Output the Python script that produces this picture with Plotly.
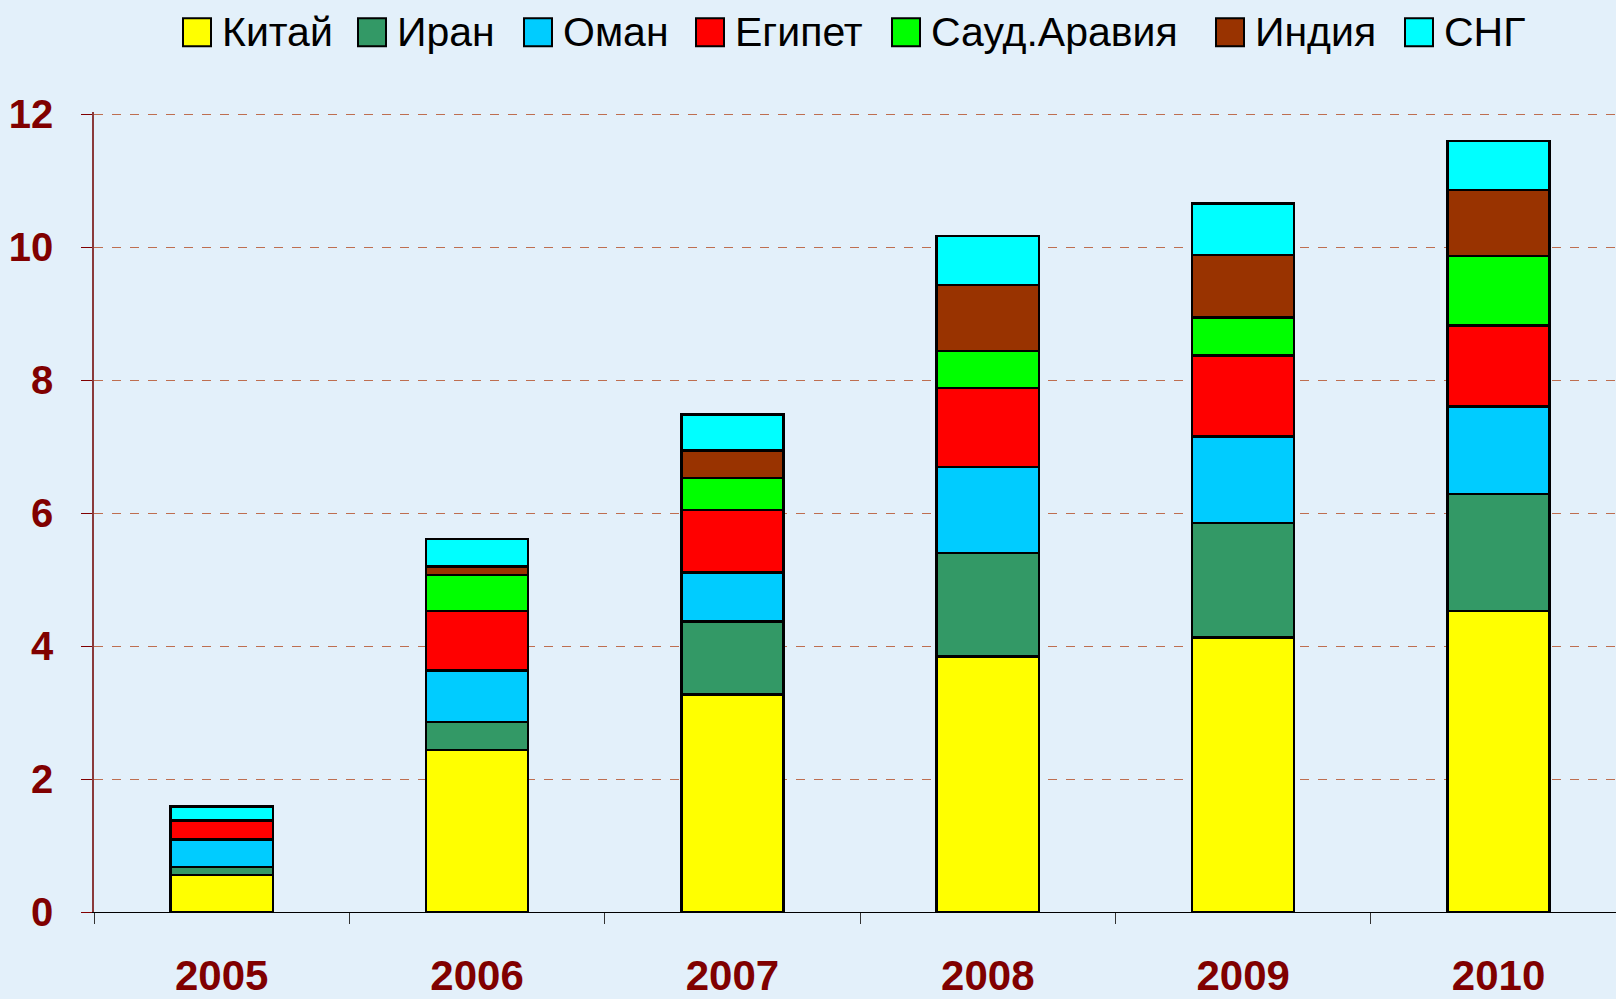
import plotly.graph_objects as go

years = ["2005", "2006", "2007", "2008", "2009", "2010"]
series_names = ["Китай", "Иран", "Оман", "Египет", "Сауд.Аравия", "Индия", "СНГ"]
china = [0.56, 2.44, 3.27, 3.84, 4.13, 4.53]
iran = [0.12, 0.42, 1.10, 1.56, 1.72, 1.76]
oman = [0.41, 0.77, 0.74, 1.29, 1.30, 1.31]
egypt = [0.29, 0.90, 0.94, 1.19, 1.22, 1.22]
saudi = [0.00, 0.54, 0.48, 0.56, 0.57, 1.05]
india = [0.00, 0.13, 0.41, 0.99, 0.94, 0.99]
cis = [0.21, 0.41, 0.54, 0.74, 0.78, 0.74]
y_ticks = [0, 2, 4, 6, 8, 10, 12]

series_values = [china, iran, oman, egypt, saudi, india, cis]
colors = ["#FFFF00", "#339966", "#00CCFF", "#FF0000", "#00FF00", "#993300", "#00FFFF"]

W, H = 1616, 999
ML, MR, MT, MB = 94, 0, 112, 85
PW, PH = W - ML - MR, H - MT - MB
Y_TOP = PH / 66.65

def px_x(px):
    return (px - ML) / PW

def px_y(py):
    return (H - MB - py) / PH

fig = go.Figure()
for name, vals, col in zip(series_names, series_values, colors):
    fig.add_trace(go.Bar(
        x=years, y=vals, name=name, width=0.4,
        marker=dict(color=col, line=dict(color="black", width=2.5)),
        showlegend=False,
    ))

# manual legend (large square swatches like the original)
legend_x = [183, 358, 524, 696, 892, 1216, 1405]
shapes = []
annotations = []
for name, col, lx in zip(series_names, colors, legend_x):
    shapes.append(dict(type="rect", xref="paper", yref="paper",
                       x0=px_x(lx), x1=px_x(lx + 28), y0=px_y(46), y1=px_y(18),
                       fillcolor=col, line=dict(color="black", width=2)))
    annotations.append(dict(xref="paper", yref="paper", x=px_x(lx + 37), y=px_y(32),
                            xanchor="left", yanchor="middle", showarrow=False,
                            text=name, font=dict(family="Liberation Sans, Arial", size=41, color="black")))

fig.update_layout(
    width=W, height=H,
    margin=dict(l=ML, r=MR, t=MT, b=MB, pad=0),
    paper_bgcolor="#E3F0FA", plot_bgcolor="#E3F0FA",
    barmode="stack",
    showlegend=False,
    shapes=shapes, annotations=annotations,
    xaxis=dict(
        type="category", range=[-0.5, 5.46],
        showline=True, linecolor="black", linewidth=1,
        ticks="outside", tickson="boundaries", ticklen=11, tickcolor="#333333", tickwidth=1,
        showgrid=False, ticklabelstandoff=27,
        tickfont=dict(family="Liberation Sans, Arial", size=42, color="#800000", weight="bold"),
    ),
    yaxis=dict(
        range=[0, Y_TOP], tickvals=y_ticks,
        showline=True, linecolor="#8B3A3A", linewidth=1.5,
        ticks="outside", ticklen=11, tickcolor="#800000", tickwidth=1,
        showgrid=True, gridcolor="rgb(190,110,80)", griddash="dash", gridwidth=1,
        zeroline=False, ticklabelstandoff=20,
        tickfont=dict(family="Liberation Sans, Arial", size=40, color="#800000", weight="bold"),
    ),
)

fig.write_html("out.html", config={"displayModeBar": False},
               post_script="document.body.style.margin='0';document.body.style.overflow='hidden';")
